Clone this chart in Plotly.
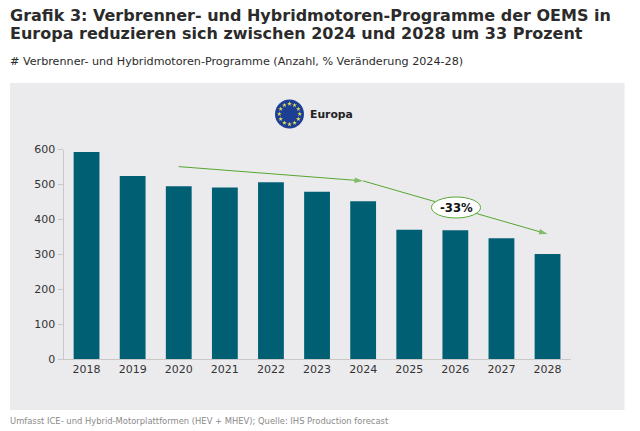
import math
import plotly.graph_objects as go

years = ["2018", "2019", "2020", "2021", "2022", "2023", "2024", "2025", "2026", "2027", "2028"]
programmes = [593, 524, 495, 491, 506, 479, 452, 370, 369, 346, 301]
trend_years = ["2020", "2024", "2028"]
trend_values = [551, 510, 358]

TITLE_1 = "Grafik 3: Verbrenner- und Hybridmotoren-Programme der OEMS in"
TITLE_2 = "Europa reduzieren sich zwischen 2024 und 2028 um 33 Prozent"
SUBTITLE = "# Verbrenner- und Hybridmotoren-Programme (Anzahl, % Veränderung 2024-28)"
SOURCE = "Umfasst ICE- und Hybrid-Motorplattformen (HEV + MHEV); Quelle: IHS Production forecast"
FONT = "DejaVu Sans"
W, H = 640, 431
GREEN = "#55a630"
BAR = "#005f73"

def px(x):
    return x / W

def py(y):
    return 1 - y / H

fig = go.Figure()
fig.add_bar(x=years, y=programmes, marker=dict(color=BAR, line=dict(width=0)), width=0.56, showlegend=False, hoverinfo="x+y")
fig.add_scatter(
    x=trend_years, y=trend_values, mode="lines+markers", line=dict(color=GREEN, width=1),
    marker=dict(symbol="arrow", size=[0, 9, 9], angleref="previous", color=GREEN, line=dict(width=0)),
    showlegend=False, hoverinfo="skip",
)

# EU flag stars on a full-page pixel axis pair
cx, cy, r = 289.5, 114, 10.2
fig.add_scatter(
    x=[cx + r * math.cos(math.radians(a * 30)) for a in range(12)],
    y=[cy + r * math.sin(math.radians(a * 30)) for a in range(12)],
    mode="markers", marker=dict(symbol="star", size=3.5, color="#e6dc5a", line=dict(width=0)),
    xaxis="x2", yaxis="y2", showlegend=False, hoverinfo="skip", cliponaxis=False,
)

shapes = [
    dict(type="rect", xref="paper", yref="paper", x0=px(10), x1=px(624.5), y0=py(410), y1=py(83), fillcolor="#ebebee", line_width=0, layer="below"),
    dict(type="circle", xref="paper", yref="paper", x0=px(cx - 14.5), x1=px(cx + 14.5), y0=py(cy + 14.5), y1=py(cy - 14.5), fillcolor="#1c3f94", line_width=0, layer="below"),
    dict(type="circle", xref="paper", yref="paper", x0=px(431.5), x1=px(480.5), y0=py(218), y1=py(197), fillcolor="white", line=dict(color=GREEN, width=1), layer="above"),
]

def txt(x, y, s, size, color, bold=False, anchor="left"):
    return dict(xref="paper", yref="paper", x=px(x), y=py(y), text=f"<b>{s}</b>" if bold else s, showarrow=False,
                xanchor=anchor, yanchor="middle", borderpad=0, borderwidth=0,
                font=dict(family=FONT, size=size, color=color))

ann = [
    txt(10, 15, TITLE_1, 16, "#2b2b2b", True),
    txt(10, 33.5, TITLE_2, 16, "#2b2b2b", True),
    txt(10, 62, SUBTITLE, 11.18, "#2b2b2b"),
    txt(10, 421, SOURCE, 8.38, "#8a8a8a"),
    txt(310, 114, "Europa", 10.8, "#222222", True),
    txt(456, 207.5, "-33%", 11.7, "#111111", True, "center"),
]

fig.update_layout(
    template="none",
    width=W, height=H, autosize=False, margin=dict(l=0, r=0, t=0, b=0, pad=0, autoexpand=False),
    paper_bgcolor="white", plot_bgcolor="rgba(0,0,0,0)", showlegend=False,
    shapes=shapes, annotations=ann,
    font=dict(family=FONT, size=11, color="#333333"),
    xaxis=dict(domain=[63.5 / W, 570.6 / W], type="category", categoryorder="array", categoryarray=years,
               range=[-0.5, 10.5], showline=True, linecolor="#c8c8c8", linewidth=1, ticks="", showgrid=False, zeroline=False,
               automargin=False, tickfont=dict(family=FONT, size=11, color="#333333"), anchor="y"),
    yaxis=dict(domain=[(H - 359) / H, (H - 149.5) / H], range=[0, 600], tickvals=[0, 100, 200, 300, 400, 500, 600],
               showline=True, linecolor="#c8c8c8", linewidth=1, ticks="outside", ticklen=5, tickcolor="#c8c8c8",
               showgrid=False, zeroline=False, automargin=False, tickfont=dict(family=FONT, size=11, color="#333333"), anchor="x"),
    xaxis2=dict(domain=[0, 1], range=[0, W], anchor="y2", visible=False, fixedrange=True, automargin=False),
    yaxis2=dict(domain=[0, 1], range=[H, 0], anchor="x2", visible=False, fixedrange=True, automargin=False),
)
fig.write_html("out.html", config=dict(displayModeBar=False),
               post_script="document.body.style.margin='0';document.body.style.overflow='hidden';")
